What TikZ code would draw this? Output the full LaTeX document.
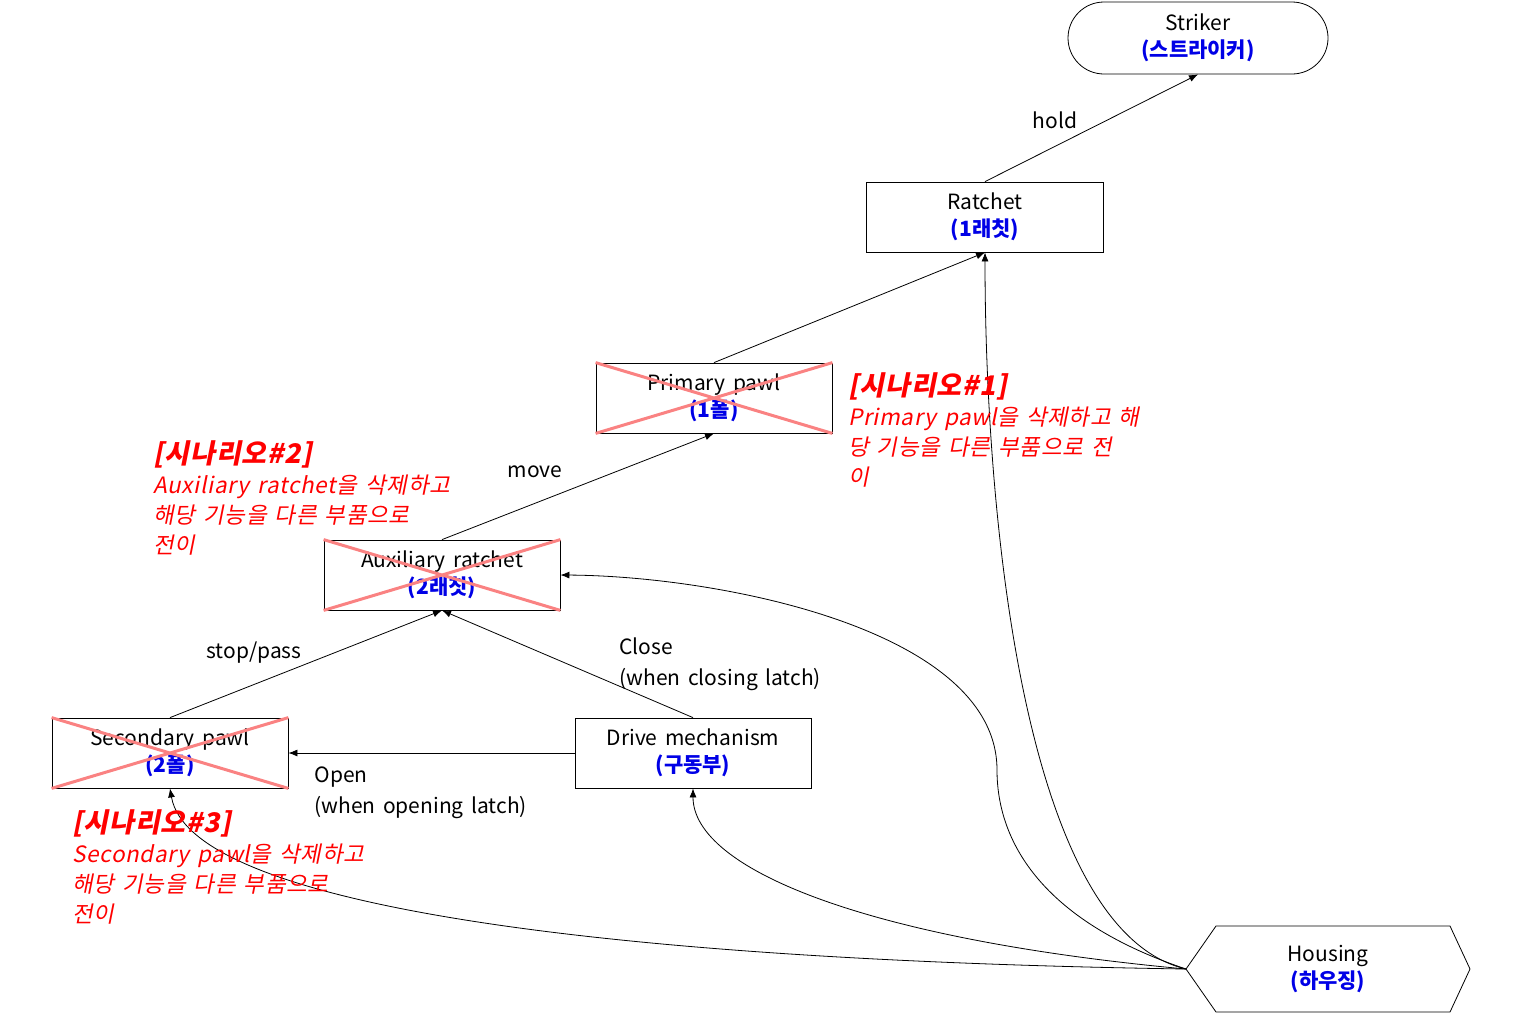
\documentclass[tikz,border=0pt]{standalone}
\usepackage{fontspec}
\setmainfont[WordSpace=1.6]{Noto Sans CJK KR}
\newfontfamily\scenfont[FakeSlant=0.2,WordSpace=1.4,LetterSpace=3]{Noto Sans CJK KR}
\usetikzlibrary{shapes.misc,arrows.meta}
\definecolor{krblue}{RGB}{0,0,230}
\definecolor{crossred}{RGB}{250,130,130}
\tikzset{
  part/.style={draw, thick, minimum width=237pt, minimum height=70pt, align=center, font=\fontsize{21}{29}\selectfont, inner sep=0pt},
  lbl/.style={font=\fontsize{21}{31}\selectfont, align=left},
  scen/.style={text=red, font=\scenfont\fontsize{22.5}{30}\selectfont, align=left, anchor=north west, inner sep=0pt},
  conn/.style={-{Latex[length=9pt,width=7pt]}, thick},
  crossed/.style={crossred, line width=3pt}
}
\newcommand{\kr}[1]{\\[-2pt]\textcolor{krblue}{\textbf{#1}}}
\begin{document}
\begin{tikzpicture}[x=1pt,y=-1pt]
\useasboundingbox (0,0) rectangle (1522,1015);
% parts
\node[part, rounded rectangle, minimum width=260pt, minimum height=72pt] (striker) at (1198,38) {Striker\kr{(스트라이커)}};
\node[part] (ratchet) at (985,217) {Ratchet\kr{(1래칫)}};
\node[part, minimum width=236pt] (ppawl) at (714,398) {Primary pawl\kr{(1폴)}};
\node[part, minimum width=236pt] (aux) at (442,575) {Auxiliary ratchet\kr{(2래칫)}};
\node[part, minimum width=236pt] (spawl) at (170,753) {Secondary pawl\kr{(2폴)}};
\node[part, minimum width=236pt] (drive) at (693,753) {Drive mechanism\kr{(구동부)}};
\node[align=center, font=\fontsize{21}{29}\selectfont] (housing) at (1328,969) {Housing\kr{(하우징)}};
\draw[thick] (1186,969) -- (1216,926) -- (1450,926) -- (1470,969) -- (1450,1012) -- (1216,1012) -- cycle;
\coordinate (hw) at (1186,969);
% removed parts
\foreach \n in {ppawl,aux,spawl}
  \draw[crossed] (\n.north west) -- (\n.south east) (\n.south west) -- (\n.north east);
% connectors
\draw[conn] (ratchet.north) -- (striker.south);
\draw[conn] (ppawl.north) -- (ratchet.south);
\draw[conn] (aux.north) -- (ppawl.south);
\draw[conn] (spawl.north) -- (aux.south);
\draw[conn] (drive.north) -- (aux.south);
\draw[conn] (drive.west) -- (spawl.east);
\draw[conn] (hw) .. controls (1020,930) and (985,500) .. (ratchet.south);
\draw[conn] (hw) .. controls (1040,920) and (997,840) .. (997,770) .. controls (997,630) and (720,576) .. (aux.east);
\draw[conn] (hw) .. controls (870,940) and (693,870) .. (drive.south);
\draw[conn] (hw) .. controls (600,960) and (190,905) .. (spawl.south);
% labels
\node[lbl] (lhold) at (1055,120) {hold};
\node[lbl] (lmove) at (535,472) {move};
\node[lbl] (lstop) at (254,653) {stop/pass};
\node[lbl, anchor=west] (lclose) at (616,664) {Close\\(when closing latch)};
\node[lbl, anchor=west] (lopen) at (311,793) {Open\\(when opening latch)};
% scenarios
\node[scen] (s1) at (848,372) {\textbf{\fontsize{27}{30}\selectfont[시나리오\#1]}\\Primary pawl을 삭제하고 해\\당 기능을 다른 부품으로 전\\이};
\node[scen] (s2) at (153,440) {\textbf{\fontsize{27}{30}\selectfont[시나리오\#2]}\\Auxiliary ratchet을 삭제하고\\해당 기능을 다른 부품으로\\전이};
\node[scen] (s3) at (72,809) {\textbf{\fontsize{27}{30}\selectfont[시나리오\#3]}\\Secondary pawl을 삭제하고\\해당 기능을 다른 부품으로\\전이};
\end{tikzpicture}
\end{document}
